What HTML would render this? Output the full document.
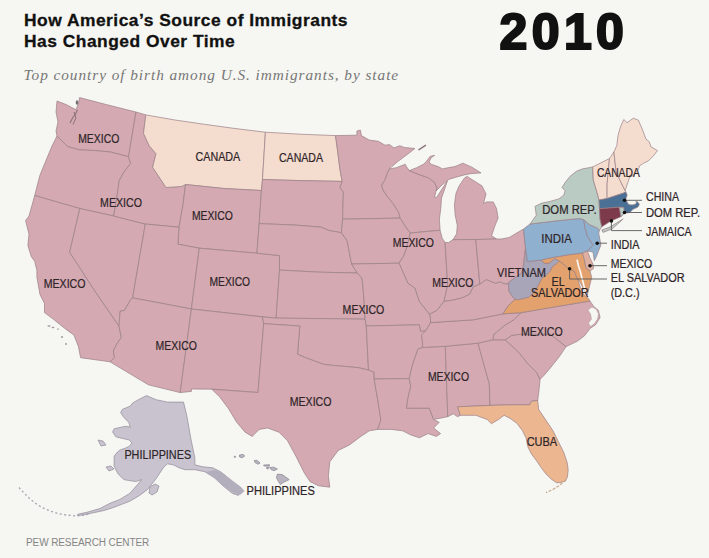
<!DOCTYPE html><html><head><meta charset="utf-8"><style>
html,body{margin:0;padding:0;background:#f6f6f2;}
body{width:709px;height:558px;position:relative;overflow:hidden;font-family:"Liberation Sans",sans-serif;}
.t{position:absolute;left:24px;top:9.6px;font-weight:bold;font-size:17.4px;line-height:21.8px;color:#111;letter-spacing:0.5px;-webkit-text-stroke:0.3px #111;}
.sub{position:absolute;left:23.5px;top:66px;font-family:"Liberation Serif",serif;font-style:italic;font-size:15.3px;color:#767676;letter-spacing:0.95px;}
.yr{position:absolute;left:499.5px;top:2.5px;font-weight:bold;font-size:50px;color:#111;letter-spacing:4.4px;-webkit-text-stroke:2.2px #111;}
.pew{position:absolute;left:26px;top:536.5px;font-size:10px;color:#858585;letter-spacing:-0.1px;}
svg{position:absolute;left:0;top:0;}

</style></head><body>
<div class="t">How America’s Source of Immigrants<br>Has Changed Over Time</div>
<div class="sub">Top country of birth among U.S. immigrants, by state</div>
<div class="yr">2010</div>
<div class="pew">PEW RESEARCH CENTER</div>
<svg width="709" height="558" viewBox="0 0 709 558">
<g stroke="#9a7f86" stroke-width="0.7" stroke-linejoin="round">
<polygon fill="#d4a9b1" points="57.0,101.0 66.0,104.5 76.0,109.7 78.6,103.0 79.6,97.6 108.0,105.0 136.0,112.0 128.5,156.6 110.3,152.0 94.5,150.5 78.7,149.8 67.4,146.4 57.0,136.0 56.0,131.0 58.0,122.0 56.0,112.0 57.0,101.0"/>
<polygon fill="#d4a9b1" points="57.0,136.0 67.4,146.4 78.7,149.8 94.5,150.5 110.3,152.0 128.5,156.6 130.6,163.4 124.0,172.0 119.3,180.3 117.0,196.0 113.7,216.0 79.8,208.5 57.0,202.0 34.7,195.5 40.0,175.0 47.0,158.0 52.0,146.0 57.0,136.0"/>
<polygon fill="#d4a9b1" points="34.7,195.5 57.0,202.0 79.8,208.5 69.7,252.2 94.2,290.0 119.0,326.1 121.3,337.4 116.7,344.2 113.4,351.0 114.5,357.7 110.0,361.8 80.6,357.7 78.4,346.4 73.9,335.1 64.8,328.4 53.5,319.3 44.5,312.6 44.5,303.5 40.0,294.5 36.9,277.0 36.9,270.3 34.7,261.3 31.3,256.7 27.9,245.5 29.0,234.2 25.6,220.6 29.0,216.1 34.7,195.5"/>
<polygon fill="#d4a9b1" points="79.8,208.5 113.7,216.0 145.3,224.0 132.6,297.9 130.3,300.2 124.6,310.3 120.1,311.4 119.0,326.1 94.2,290.0 69.7,252.2 79.8,208.5"/>
<polygon fill="#d4a9b1" points="136.0,112.0 145.8,114.9 143.5,133.4 149.2,145.8 156.0,153.7 152.6,167.2 161.6,180.8 166.0,187.5 182.0,186.4 185.5,184.5 183.0,205.0 179.0,227.2 145.3,224.0 113.7,216.0 117.0,196.0 119.3,180.3 124.0,172.0 130.6,163.4 128.5,156.6 136.0,112.0"/>
<polygon fill="#f4dccf" points="145.8,114.9 175.0,120.0 204.5,124.3 235.0,128.5 265.4,132.2 262.5,179.5 261.4,190.5 224.0,188.5 185.5,184.5 182.0,186.4 166.0,187.5 161.6,180.8 152.6,167.2 156.0,153.7 149.2,145.8 143.5,133.4 145.8,114.9"/>
<polygon fill="#d4a9b1" points="185.5,184.5 224.0,188.5 261.4,190.5 259.2,223.6 256.9,253.2 199.3,248.2 177.9,244.2 179.0,227.2 183.0,205.0 185.5,184.5"/>
<polygon fill="#d4a9b1" points="145.3,224.0 179.0,227.2 177.9,244.2 199.3,248.2 191.4,309.0 160.0,303.0 132.6,297.9 145.3,224.0"/>
<polygon fill="#d4a9b1" points="132.6,297.9 160.0,303.0 191.4,309.0 180.2,392.6 148.4,384.8 110.0,361.8 114.5,357.7 113.4,351.0 116.7,344.2 121.3,337.4 119.0,326.1 120.1,311.4 124.6,310.3 130.3,300.2 132.6,297.9"/>
<polygon fill="#d4a9b1" points="199.3,248.2 256.9,253.2 279.5,255.5 279.5,270.1 276.1,318.1 262.6,316.9 191.4,309.0 199.3,248.2"/>
<polygon fill="#d4a9b1" points="191.4,309.0 262.6,316.9 263.7,323.7 258.0,392.5 211.8,389.2 191.4,389.0 191.4,391.4 180.2,392.6 191.4,309.0"/>
<polygon fill="#f4dccf" points="265.4,132.2 300.0,134.2 335.5,135.6 337.7,151.4 340.0,169.5 342.2,181.4 300.0,180.6 262.5,179.5 265.4,132.2"/>
<polygon fill="#d4a9b1" points="262.5,179.5 300.0,180.6 342.2,181.4 340.0,187.6 343.4,192.0 342.6,219.2 341.4,232.7 329.0,230.5 321.2,227.2 294.2,225.0 259.2,223.6 261.4,190.5 262.5,179.5"/>
<polygon fill="#d4a9b1" points="259.2,223.6 294.2,225.0 321.2,227.2 329.0,230.5 341.4,232.7 347.1,240.6 351.6,264.0 357.2,273.0 320.0,272.2 279.5,270.1 279.5,255.5 256.9,253.2 259.2,223.6"/>
<polygon fill="#d4a9b1" points="279.5,270.1 320.0,272.2 357.2,273.0 361.8,277.9 362.9,285.8 364.0,300.0 365.1,319.2 320.0,318.6 276.1,318.1 279.5,270.1"/>
<polygon fill="#d4a9b1" points="262.6,316.9 276.1,318.1 320.0,318.6 365.1,319.2 366.3,326.0 368.5,370.0 358.4,367.7 347.1,366.6 333.5,365.5 323.5,364.3 314.5,361.0 305.4,357.6 297.5,354.2 299.8,326.0 263.7,323.7 262.6,316.9"/>
<polygon fill="#d4a9b1" points="263.7,323.7 299.8,326.0 297.5,354.2 305.4,357.6 314.5,361.0 323.5,364.3 333.5,365.5 347.1,366.6 358.4,367.7 368.5,370.0 374.2,372.2 374.2,379.0 379.1,408.2 380.9,420.0 377.7,429.4 369.3,430.8 360.8,436.4 349.5,444.9 338.2,450.5 329.8,461.8 328.4,475.9 329.8,487.2 318.5,485.8 310.0,481.6 304.4,473.1 295.9,456.2 287.4,440.6 279.0,432.2 267.7,428.0 259.2,429.4 252.2,436.4 245.1,432.2 236.7,422.3 228.2,408.2 219.7,396.9 211.8,389.2 258.0,392.5 263.7,323.7"/>
<polygon fill="#d4a9b1" points="335.5,135.6 356.9,135.2 356.9,131.1 360.3,130.0 361.4,135.6 369.3,140.1 378.4,141.3 385.0,145.2 389.5,144.6 394.0,148.0 399.7,145.7 404.2,147.4 414.9,148.5 407.6,154.2 398.5,161.0 391.8,166.6 389.5,168.9 387.3,173.4 385.0,180.1 381.7,185.3 382.9,189.8 387.4,196.6 393.0,203.4 398.7,212.4 400.1,218.1 342.6,219.2 343.4,192.0 340.0,187.6 342.2,181.4 340.0,169.5 337.7,151.4 335.5,135.6"/>
<polygon fill="#d4a9b1" points="389.5,168.9 396.3,167.7 401.9,165.5 405.3,164.3 406.4,166.6 409.3,170.6 418.9,174.5 428.6,177.9 434.4,182.2 437.2,188.0 436.0,191.0 434.5,197.0 436.5,197.5 447.3,181.0 444.0,191.0 441.5,198.0 440.8,208.1 439.4,219.5 440.1,230.3 410.3,233.0 405.8,227.1 400.1,218.1 398.7,212.4 393.0,203.4 387.4,196.6 382.9,189.8 381.7,185.3 385.0,180.1 387.3,173.4 389.5,168.9"/>
<polygon fill="#d4a9b1" points="342.6,219.2 400.1,218.1 405.8,227.1 410.3,233.0 406.9,247.4 403.5,256.4 399.0,263.2 351.6,264.0 347.1,240.6 341.4,232.7 342.6,219.2"/>
<polygon fill="#d4a9b1" points="410.3,233.0 440.1,230.3 442.2,238.2 445.1,242.5 447.7,285.0 444.0,301.5 436.7,310.7 429.3,314.3 430.3,316.0 428.4,312.9 419.3,301.6 414.8,288.0 408.0,283.5 399.0,263.2 403.5,256.4 406.9,247.4 410.3,233.0"/>
<polygon fill="#d4a9b1" points="445.1,242.5 448.7,242.5 453.0,239.6 475.8,239.5 479.8,284.1 473.3,286.8 469.7,294.2 462.3,297.8 455.0,299.7 444.0,301.5 447.7,285.0 445.1,242.5"/>
<polygon fill="#d4a9b1" points="409.3,170.6 416.6,167.7 423.4,164.3 426.8,161.0 430.1,156.4 434.7,155.3 431.3,157.6 429.0,162.1 431.3,164.3 438.0,166.6 442.6,168.9 448.2,167.7 455.0,166.6 462.9,163.2 471.9,167.2 481.0,172.9 472.0,173.5 465.9,174.5 455.9,177.2 448.7,179.4 442.0,185.0 436.0,191.0 437.2,188.0 434.4,182.2 428.6,177.9 418.9,174.5 409.3,170.6"/>
<polygon fill="#d4a9b1" points="453.0,239.6 456.6,233.9 457.3,225.3 455.2,215.2 454.4,205.2 455.9,193.7 458.8,186.5 464.5,177.9 467.4,176.3 469.0,177.7 481.9,185.8 486.0,193.9 483.5,203.5 486.8,201.9 493.2,201.9 496.5,208.4 498.1,218.1 494.8,226.1 491.6,235.8 496.5,239.0 475.8,239.5 453.0,239.6"/>
<polygon fill="#d4a9b1" points="351.6,264.0 399.0,263.2 408.0,283.5 414.8,288.0 419.3,301.6 428.4,312.9 430.3,316.0 430.6,322.6 426.1,330.5 420.5,331.6 419.3,324.8 366.3,326.0 365.1,319.2 364.0,300.0 362.9,285.8 361.8,277.9 357.2,273.0 351.6,264.0"/>
<polygon fill="#d4a9b1" points="366.3,326.0 419.3,324.8 420.5,331.6 426.1,330.5 421.5,335.0 422.3,340.4 422.7,347.4 418.0,349.0 415.0,357.6 412.2,366.2 409.2,378.6 374.2,379.0 374.2,372.2 368.5,370.0 366.3,326.0"/>
<polygon fill="#d4a9b1" points="374.2,379.0 409.2,378.6 410.8,386.3 408.0,397.8 406.5,408.2 429.4,408.2 433.6,419.5 439.2,422.3 433.6,428.0 440.6,433.6 436.4,436.4 428.0,433.6 419.5,437.8 411.0,435.0 402.6,430.8 391.3,429.4 377.7,429.4 380.9,420.0 379.1,408.2 374.2,379.0"/>
<polygon fill="#d4a9b1" points="422.7,347.4 445.3,346.3 447.5,408.4 447.7,416.7 433.6,419.5 429.4,408.2 406.5,408.2 408.0,397.8 410.8,386.3 409.2,378.6 412.2,366.2 415.0,357.6 418.0,349.0 422.7,347.4"/>
<polygon fill="#d4a9b1" points="445.3,346.3 478.0,343.2 489.3,383.8 490.0,405.4 457.6,406.8 460.4,415.3 457.6,416.7 453.3,413.8 447.7,416.7 447.5,408.4 445.3,346.3"/>
<polygon fill="#d4a9b1" points="478.0,343.2 492.7,339.8 505.1,339.8 518.7,352.2 527.7,363.5 536.7,372.6 540.1,379.3 539.0,390.0 537.7,400.4 531.5,401.3 529.7,404.8 510.0,404.8 490.0,405.4 489.3,383.8 478.0,343.2"/>
<polygon fill="#ebb690" points="490.0,405.4 510.0,404.8 529.7,404.8 531.5,401.3 537.7,400.4 538.6,409.3 545.8,420.1 553.0,430.8 558.3,441.5 563.7,452.3 567.3,463.0 568.2,470.2 567.3,477.3 565.5,480.9 560.1,482.7 556.5,482.7 551.2,479.1 545.8,473.8 540.4,466.6 536.9,461.2 531.5,454.1 527.9,446.9 526.1,438.0 522.5,430.8 517.2,423.6 510.0,418.3 504.1,415.3 498.5,419.5 491.4,423.7 487.2,419.5 475.9,415.3 460.4,415.3 457.6,406.8 490.0,405.4"/>
<polygon fill="#d4a9b1" points="505.1,339.8 511.9,335.3 520.9,334.2 550.3,334.2 566.1,346.6 559.3,356.7 550.3,368.0 543.5,375.9 540.1,379.3 536.7,372.6 527.7,363.5 518.7,352.2 505.1,339.8"/>
<polygon fill="#d4a9b1" points="520.9,312.7 560.0,306.0 590.0,301.0 593.7,306.5 598.3,310.2 600.1,317.5 595.5,324.8 590.0,328.5 584.5,335.8 577.2,341.3 566.1,346.6 550.3,334.2 520.9,334.2 511.9,335.3 505.1,339.8 492.7,339.8 493.9,334.2 505.1,325.1 514.2,319.5 520.9,312.7"/>
<polygon fill="#d4a9b1" points="430.6,322.6 473.3,319.8 502.9,313.9 520.9,312.7 514.2,319.5 505.1,325.1 493.9,334.2 492.7,339.8 478.0,343.2 445.3,346.3 422.7,347.4 422.3,340.4 421.5,335.0 426.1,330.5 430.6,322.6"/>
<polygon fill="#d4a9b1" points="479.8,284.1 473.3,286.8 469.7,294.2 462.3,297.8 455.0,299.7 444.0,301.5 436.7,310.7 429.3,314.3 430.3,316.0 430.6,322.6 473.3,319.8 502.9,313.9 508.0,306.0 515.0,299.3 513.0,297.2 509.3,291.8 508.5,286.4 508.5,283.7 504.0,283.7 500.4,281.9 495.3,283.2 486.2,279.5 479.8,284.1"/>
<polygon fill="#d4a9b1" points="475.8,239.5 479.8,284.1 486.2,279.5 495.3,283.2 500.4,281.9 504.0,283.7 508.5,283.7 509.3,281.9 513.0,279.2 521.9,273.0 523.7,264.0 525.5,248.0 523.5,229.0 517.4,232.6 509.4,237.4 501.3,239.0 496.5,239.0 475.8,239.5"/>
<polygon fill="#a9a5b9" points="527.4,261.5 525.5,248.0 523.7,264.0 521.9,273.0 513.0,279.2 509.3,281.9 508.5,283.7 508.5,286.4 509.3,291.8 513.0,297.2 515.0,299.3 517.4,299.8 521.9,299.0 529.1,297.2 533.8,292.4 538.4,285.4 541.9,278.4 546.6,274.9 550.1,271.4 552.4,266.8 557.1,263.3 559.4,261.0 554.7,258.6 548.9,263.3 544.3,263.3 541.5,260.0 527.4,261.5"/>
<polygon fill="#e3a16d" points="502.9,313.9 508.0,306.0 515.0,299.3 517.4,299.8 521.9,299.0 529.1,297.2 533.8,292.4 538.4,285.4 541.9,278.4 546.6,274.9 550.1,271.4 552.4,266.8 557.1,263.3 559.4,261.0 563.5,264.0 568.0,268.5 574.0,271.0 578.0,280.0 580.5,288.0 584.0,295.0 588.0,298.0 590.0,301.0 560.0,306.0 520.9,312.7 502.9,313.9"/>
<polygon fill="#e3a16d" points="541.5,260.0 546.6,258.6 555.9,256.9 569.9,254.5 582.5,253.0 584.5,260.0 586.0,268.0 590.0,271.0 591.7,277.5 589.0,288.3 587.4,295.0 584.0,290.0 580.0,282.0 578.0,280.0 574.0,271.0 568.0,268.5 563.5,264.0 559.4,261.0 554.7,258.6 548.9,263.3 544.3,263.3 541.5,260.0"/>
<polygon fill="#8fb0cf" points="523.5,229.0 530.0,224.0 555.0,221.0 579.0,218.5 583.7,219.5 585.1,228.2 587.4,236.1 593.0,245.1 587.4,251.0 582.5,253.0 569.9,254.5 555.9,256.9 546.6,258.6 541.5,260.0 527.4,261.5 525.5,248.0 523.5,229.0"/>
<polygon fill="#8fb0cf" points="583.7,219.5 589.3,224.5 597.2,227.9 599.5,230.1 598.7,233.0 600.9,245.1 596.4,256.4 594.3,260.7 593.0,252.0 587.4,251.0 593.0,245.1 587.4,236.1 585.1,228.2 583.7,219.5"/>
<polygon fill="#dfb0a2" points="582.5,253.0 587.4,251.0 590.0,258.0 593.0,264.0 593.5,268.6 590.0,271.0 586.0,268.0 584.5,260.0 582.5,253.0"/>
<polygon fill="#b9cbc3" points="583.7,219.5 579.0,218.5 555.0,221.0 530.0,224.0 536.3,215.2 535.0,206.4 541.3,203.3 550.1,201.4 558.9,198.9 563.9,195.1 565.1,190.7 562.0,187.6 565.1,182.6 570.1,176.3 576.4,171.3 582.7,168.8 590.2,167.5 592.7,166.9 593.3,180.0 597.1,192.6 599.0,200.1 599.5,208.7 600.0,218.9 601.8,226.8 599.5,230.1 597.2,227.9 589.3,224.5 583.7,219.5"/>
<polygon fill="#f4dccf" points="592.7,166.9 609.5,158.5 607.1,183.9 607.1,198.5 599.0,200.1 597.1,192.6 593.3,180.0 592.7,166.9"/>
<polygon fill="#f4dccf" points="609.5,158.5 612.5,154.0 613.9,152.0 616.1,171.4 619.5,179.3 625.1,190.6 625.8,191.8 624.0,192.9 607.1,198.5 607.1,183.9 609.5,158.5"/>
<polygon fill="#f4dccf" points="613.9,152.0 616.8,145.5 618.0,135.4 620.6,126.5 623.8,119.5 627.0,122.7 633.3,118.2 638.4,120.2 642.2,129.0 646.0,139.2 649.2,141.7 651.0,146.8 657.4,150.6 653.6,155.7 648.5,160.8 643.5,163.3 639.6,165.8 638.4,169.6 634.0,175.0 629.7,177.1 625.1,190.6 619.5,179.3 616.1,171.4 613.9,152.0"/>
<polygon fill="#4a7096" points="599.0,200.1 607.1,198.5 624.0,192.9 625.8,191.8 627.2,195.0 625.8,199.3 627.2,202.2 628.7,204.5 632.0,205.0 635.5,204.2 636.5,202.5 635.8,201.4 637.5,201.8 639.4,204.3 638.0,207.0 633.0,209.3 630.1,212.2 627.2,212.9 624.4,212.9 623.6,207.5 619.3,207.2 599.5,208.7 599.0,200.1"/>
<polygon fill="#7d3a4a" points="599.5,208.7 619.3,207.2 621.0,216.6 618.7,217.7 610.8,221.1 601.8,226.8 600.0,218.9 599.5,208.7"/>
<polygon fill="#b9cbc3" points="619.3,207.2 623.6,207.5 624.4,212.9 623.0,215.0 621.0,216.6 619.3,207.2"/>
<polygon fill="#b9cbc3" points="601.8,230 610,227 618,222 623.2,218.9 620,222 612,229 603,232.4"/>
</g>
<polyline fill="none" stroke="#8c7279" stroke-width="1.1" points="77.5,110 75.5,114 72.5,118 70,123"/>
<polyline fill="none" stroke="#8c7279" stroke-width="1" points="74,112 76,118 73,124.5"/>
<ellipse cx="77" cy="102.5" rx="1.3" ry="2.3" fill="#7d7075"/>
<polygon fill="#f6f6f2" stroke="#b29aa0" stroke-width="0.5" points="592,307 596.5,309.5 598.5,314 597.5,319 594.5,323.5 590.5,326.5 588.5,323 591.5,319 590.5,314 588,310"/>
<polyline fill="none" stroke="#8f7a80" stroke-width="1.5" stroke-linecap="round" points="419,149.7 425.5,145.3"/>
<polyline fill="none" stroke="#f6f6f2" stroke-width="1.7" points="577,259.6 578.5,266 580.5,272 581.8,277.5 584,286 586.5,294.5"/>
<polyline fill="none" stroke="#c9a78c" stroke-width="1.2" stroke-dasharray="3 1.5" points="566,480 560,485 553,489.5 546,492.6"/>
<ellipse cx="49" cy="326" rx="1.6" ry="0.8" fill="#9e9398"/>
<ellipse cx="53" cy="327.5" rx="1.4" ry="0.7" fill="#9e9398"/>
<ellipse cx="58" cy="329" rx="1.2" ry="0.6" fill="#9e9398"/>
<ellipse cx="62" cy="337" rx="1.0" ry="0.9" fill="#9e9398"/>
<ellipse cx="66" cy="344" rx="0.9" ry="0.9" fill="#9e9398"/>
<g stroke="#8f8a98" stroke-width="0.7"><polygon fill="#c9c3cf" points="146.5,395.6 156.1,399.7 167.4,402.1 183.5,402.1 186.8,415.8 190.8,438.4 194.8,457.7 194.9,464.8 202.8,466.8 212.7,467.8 220.6,471.7 232.4,481.6 240.3,487.5 238.4,495.4 232.4,493.4 222.6,485.5 214.7,477.6 204.8,471.7 194.9,469.7 185.0,469.7 179.1,467.8 173.2,464.8 167.3,463.8 163.3,467.8 159.4,473.7 155.4,479.6 147.5,489.5 139.6,495.4 129.7,501.3 121.8,504.3 114.0,507.3 104.0,510.5 94.6,512.5 85.0,514.5 77.7,515.8 77.7,514.3 88.0,512.0 100.0,508.5 110.0,503.3 119.9,499.4 129.7,493.4 137.6,484.6 141.6,479.6 135.7,481.6 123.8,479.6 117.9,473.7 114.0,465.8 114.2,461.0 114.2,456.1 117.4,452.1 120.6,449.7 125.5,448.1 128.7,446.5 131.9,443.2 129.5,440.0 122.3,438.4 115.8,436.8 112.6,431.9 114.2,428.7 125.5,426.3 130.3,427.1 128.7,422.3 123.9,417.4 120.6,412.6 122.3,409.4 130.3,406.1 132.7,402.9 138.4,399.7"/>
<polygon fill="#c9c3cf" points="150.0,487.0 155.0,484.0 159.0,486.0 157.0,492.0 152.0,495.0 149.0,493.0"/>
<polygon fill="#c9c3cf" points="98.0,440.0 103.0,441.0 106.0,445.0 101.0,446.0"/>
<polygon fill="#c9c3cf" points="106.0,467.0 111.0,466.0 114.0,469.0 109.0,471.0"/>
<polyline fill="none" stroke="#aaa5b0" stroke-width="1.3" stroke-dasharray="2 2.5" points="19.0,487.5 24.0,493.0 29.0,498.0 35.0,503.0 42.0,507.5 50.0,511.0 58.0,513.5 66.0,515.0 74.0,515.8 82.0,515.5 90.0,514.0"/>
<polygon fill="#b3aebb" stroke="none" points="215,470 224,474 233,481 241,487 244.5,491 240,495 232,492 223,486 214,478 205,472"/>
<polygon fill="#b9b4bf" stroke="#8a8592" points="234.3,456.3 235.5,456.3 235.5,457.3 234.3,457.3"/>
<polygon fill="#b9b4bf" stroke="#8a8592" points="239.4,455.0 243.0,454.4 244.8,456.0 242.0,457.8 239.6,457.0"/>
<polygon fill="#b9b4bf" stroke="#8a8592" points="254.2,460.5 257.0,460.3 260.1,463.0 258.0,464.2 255.0,462.5"/>
<polygon fill="#b9b4bf" stroke="#8a8592" points="263.6,465.0 269.5,464.7 269.3,466.2 264.0,466.0"/>
<polygon fill="#b9b4bf" stroke="#8a8592" points="266.5,467.5 268.5,467.3 268.2,469.0 266.8,468.8"/>
<polygon fill="#b9b4bf" stroke="#8a8592" points="269.5,467.5 274.0,467.2 277.4,469.0 274.0,470.7 271.0,469.5"/>
<polygon fill="#b9b4bf" stroke="#8a8592" points="277.4,474.1 282.3,474.6 289.2,479.6 283.3,482.5 280.3,484.5 278.4,481.5 276.4,477.6"/>
</g>
<g stroke="#5a5a5a" stroke-width="0.9" fill="none">
<polyline points="624.5,200.3 642,200.3"/>
<polyline points="624.5,212.5 642,212.5"/>
<polyline points="611.4,220.9 611.4,230.6 642,230.6"/>
<polyline points="597.2,243.2 607,243.2"/>
<polyline points="590,265.7 607,265.7"/>
<polyline points="569.6,268.8 569.6,279 607,279"/>
</g><g fill="#111">
<circle cx="624.5" cy="200.3" r="1.8"/>
<circle cx="624.5" cy="212.5" r="1.8"/>
<circle cx="611.4" cy="220.9" r="1.8"/>
<circle cx="597.2" cy="243.2" r="1.8"/>
<circle cx="590" cy="265.7" r="1.8"/>
<circle cx="569.6" cy="268.8" r="1.8"/>
</g>
<g font-family="Liberation Sans, sans-serif" fill="#2e2428" stroke="#2e2428" stroke-width="0.2">
<text x="78.2" y="143.4" font-size="12.0" textLength="41.1" lengthAdjust="spacingAndGlyphs">MEXICO</text>
<text x="100.1" y="206.7" font-size="12.0" textLength="41.8" lengthAdjust="spacingAndGlyphs">MEXICO</text>
<text x="43.7" y="288.0" font-size="12.0" textLength="41.8" lengthAdjust="spacingAndGlyphs">MEXICO</text>
<text x="195.5" y="161.3" font-size="12.0" textLength="44.7" lengthAdjust="spacingAndGlyphs">CANADA</text>
<text x="279.0" y="161.9" font-size="12.0" textLength="44.0" lengthAdjust="spacingAndGlyphs">CANADA</text>
<text x="191.9" y="219.5" font-size="12.0" textLength="40.9" lengthAdjust="spacingAndGlyphs">MEXICO</text>
<text x="209.5" y="286.3" font-size="12.0" textLength="40.6" lengthAdjust="spacingAndGlyphs">MEXICO</text>
<text x="155.6" y="349.5" font-size="12.0" textLength="41.3" lengthAdjust="spacingAndGlyphs">MEXICO</text>
<text x="289.7" y="405.6" font-size="12.0" textLength="41.8" lengthAdjust="spacingAndGlyphs">MEXICO</text>
<text x="342.6" y="314.3" font-size="12.0" textLength="41.7" lengthAdjust="spacingAndGlyphs">MEXICO</text>
<text x="392.7" y="247.1" font-size="12.0" textLength="41.3" lengthAdjust="spacingAndGlyphs">MEXICO</text>
<text x="432.2" y="286.6" font-size="12.0" textLength="41.3" lengthAdjust="spacingAndGlyphs">MEXICO</text>
<text x="427.9" y="381.4" font-size="12.0" textLength="41.1" lengthAdjust="spacingAndGlyphs">MEXICO</text>
<text x="521.0" y="336.1" font-size="12.0" textLength="41.7" lengthAdjust="spacingAndGlyphs">MEXICO</text>
<text x="124.4" y="459.0" font-size="12.0" textLength="66.7" lengthAdjust="spacingAndGlyphs">PHILIPPINES</text>
<text x="246.5" y="494.5" font-size="12.0" textLength="68.3" lengthAdjust="spacingAndGlyphs">PHILIPPINES</text>
<text x="596.9" y="176.7" font-size="12.0" textLength="42.9" lengthAdjust="spacingAndGlyphs">CANADA</text>
<text x="542.2" y="213.8" font-size="12.0" textLength="54.4" lengthAdjust="spacingAndGlyphs">DOM REP.</text>
<text x="541.3" y="242.6" font-size="12.0" textLength="30.5" lengthAdjust="spacingAndGlyphs">INDIA</text>
<text x="497.0" y="277.3" font-size="12.0" textLength="48.9" lengthAdjust="spacingAndGlyphs">VIETNAM</text>
<text x="551.5" y="285.8" font-size="12.0" textLength="13.3" lengthAdjust="spacingAndGlyphs">EL</text>
<text x="530.9" y="297.1" font-size="12.0" textLength="57.8" lengthAdjust="spacingAndGlyphs">SALVADOR</text>
<text x="526.7" y="446.0" font-size="12.0" textLength="30.5" lengthAdjust="spacingAndGlyphs">CUBA</text>
<text x="646.0" y="201.1" font-size="12.0" textLength="33.0" lengthAdjust="spacingAndGlyphs">CHINA</text>
<text x="646.0" y="216.7" font-size="12.0" textLength="54.0" lengthAdjust="spacingAndGlyphs">DOM REP.</text>
<text x="646.0" y="235.8" font-size="12.0" textLength="45.6" lengthAdjust="spacingAndGlyphs">JAMAICA</text>
<text x="610.7" y="249.1" font-size="12.0" textLength="28.8" lengthAdjust="spacingAndGlyphs">INDIA</text>
<text x="610.7" y="268.0" font-size="12.0" textLength="41.5" lengthAdjust="spacingAndGlyphs">MEXICO</text>
<text x="610.7" y="282.1" font-size="12.0" textLength="73.9" lengthAdjust="spacingAndGlyphs">EL SALVADOR</text>
<text x="610.7" y="297.1" font-size="12.0" textLength="28.8" lengthAdjust="spacingAndGlyphs">(D.C.)</text>
</g>
</svg></body></html>
